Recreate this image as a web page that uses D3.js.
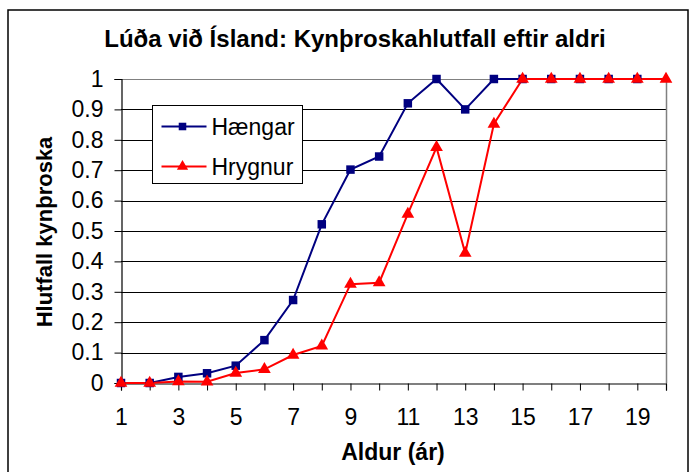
<!DOCTYPE html>
<html>
<head>
<meta charset="utf-8">
<script src="https://cdn.jsdelivr.net/npm/d3@7"></script>
<style>
  body { margin: 0; background: #fff; }
  svg text { font-family: "Liberation Sans", Arial, sans-serif; }
</style>
</head>
<body>
<div id="chart"></div>
<script>
// data
var ages = d3.range(1, 21);
var haengar = [0, 0, 0.02, 0.032, 0.057, 0.141, 0.273, 0.522, 0.702, 0.745,
               0.92, 1, 0.9, 1, 1, 1, 1, 1, 1];
var hrygnur = [0, 0, 0.005, 0.004, 0.033, 0.045, 0.092, 0.122, 0.325, 0.33,
               0.556, 0.775, 0.427, 0.852, 1, 1, 1, 1, 1, 1];
var yTicks = d3.range(0, 11).map(function(i) { return i / 10; });
var xLabels = [1, 3, 5, 7, 9, 11, 13, 15, 17, 19];

var series = [
  {name: "Hængar", values: haengar, color: "#000080", symbol: d3.symbolSquare, size: 72},
  {name: "Hrygnur", values: hrygnur, color: "#FF0000", symbol: d3.symbolTriangle, size: 70}
];

var W = 699, H = 472;
var margin = {top: 79, right: 33, bottom: 89, left: 121},
    width = W - margin.left - margin.right,
    height = H - margin.top - margin.bottom;

var svg = d3.select("#chart")
  .append("svg")
    .attr("width", W)
    .attr("height", H);

// outer frame
svg.append("rect")
  .attr("x", 8).attr("y", 10)
  .attr("width", 680).attr("height", 480)
  .attr("fill", "none")
  .attr("stroke", "#000")
  .attr("stroke-width", 1.5);

var g = svg.append("g")
  .attr("transform", "translate(" + margin.left + "," + margin.top + ")");

var x = d3.scaleLinear().domain([1, 20]).range([0, width]);
var y = d3.scaleLinear().domain([0, 1]).range([height, 0]);

// gridlines
g.selectAll(".grid")
  .data(yTicks.slice(1))
  .enter().append("line")
    .attr("x1", 0).attr("x2", width)
    .attr("y1", function(d) { return Math.round(y(d)) + 0.5; })
    .attr("y2", function(d) { return Math.round(y(d)) + 0.5; })
    .attr("stroke", function(d) { return d === 1 ? "#808080" : "#000"; })
    .attr("stroke-width", 1);

// right border of plot area
g.append("line")
  .attr("x1", width + 0.5).attr("x2", width + 0.5)
  .attr("y1", 0).attr("y2", height)
  .attr("stroke", "#808080")
  .attr("stroke-width", 1.5);

// y axis
var yAxis = g.append("g")
  .attr("transform", "translate(0.5,0)")
  .call(d3.axisLeft(y).tickValues(yTicks).tickSize(7).tickPadding(11)
    .tickFormat(function(d) { return d === 0 || d === 1 ? d3.format("d")(d) : d3.format(".1f")(d); }));
yAxis.select(".domain").attr("stroke", "#000").attr("stroke-width", 1.2);
yAxis.selectAll(".tick line").attr("stroke", "#000");
yAxis.selectAll("text").attr("font-size", 23).attr("fill", "#000");

// x axis
var xAxis = g.append("g")
  .attr("transform", "translate(0," + (height + 0.5) + ")")
  .call(d3.axisBottom(x).tickValues(ages).tickSize(7).tickPadding(18)
    .tickFormat(function(d) { return xLabels.indexOf(d) >= 0 ? d : ""; }));
xAxis.select(".domain").attr("stroke", "#000").attr("stroke-width", 1.2);
xAxis.selectAll(".tick line").attr("stroke", "#000");
xAxis.selectAll("text").attr("font-size", 23).attr("fill", "#000");

// lines and markers
var line = d3.line()
  .x(function(d, i) { return x(ages[i]); })
  .y(function(d) { return y(d); });

series.forEach(function(s) {
  g.append("path")
    .datum(s.values)
    .attr("fill", "none")
    .attr("stroke", s.color)
    .attr("stroke-width", 2)
    .attr("d", line);
});

series.forEach(function(s, k) {
  g.selectAll(".m" + k)
    .data(s.values)
    .enter().append("path")
      .attr("transform", function(d, i) { return "translate(" + x(ages[i]) + "," + y(d) + ")"; })
      .attr("d", d3.symbol().type(s.symbol).size(s.size))
      .attr("fill", s.color);
});

// title
svg.append("text")
  .attr("x", 355).attr("y", 47)
  .attr("text-anchor", "middle")
  .attr("font-size", 24)
  .attr("font-weight", "bold")
  .text("Lúða við Ísland: Kynþroskahlutfall eftir aldri");

// axis titles
svg.append("text")
  .attr("x", 393).attr("y", 460)
  .attr("text-anchor", "middle")
  .attr("font-size", 23)
  .attr("font-weight", "bold")
  .text("Aldur (ár)");

svg.append("text")
  .attr("transform", "translate(52,232) rotate(-90)")
  .attr("text-anchor", "middle")
  .attr("font-size", 22)
  .attr("font-weight", "bold")
  .text("Hlutfall kynþroska");

// legend
var legend = svg.append("g").attr("transform", "translate(152.5,105.5)");
legend.append("rect")
  .attr("width", 150).attr("height", 78)
  .attr("fill", "#fff")
  .attr("stroke", "#000")
  .attr("stroke-width", 1);

series.forEach(function(s, i) {
  var row = legend.append("g").attr("transform", "translate(0," + (21 + i * 40) + ")");
  row.append("line")
    .attr("x1", 9).attr("x2", 54)
    .attr("stroke", s.color)
    .attr("stroke-width", 2);
  row.append("path")
    .attr("transform", "translate(30,0)")
    .attr("d", d3.symbol().type(s.symbol).size(s.size - 15))
    .attr("fill", s.color);
  row.append("text")
    .attr("x", 59).attr("y", 8)
    .attr("font-size", 23)
    .text(s.name);
});
</script>
</body>
</html>
